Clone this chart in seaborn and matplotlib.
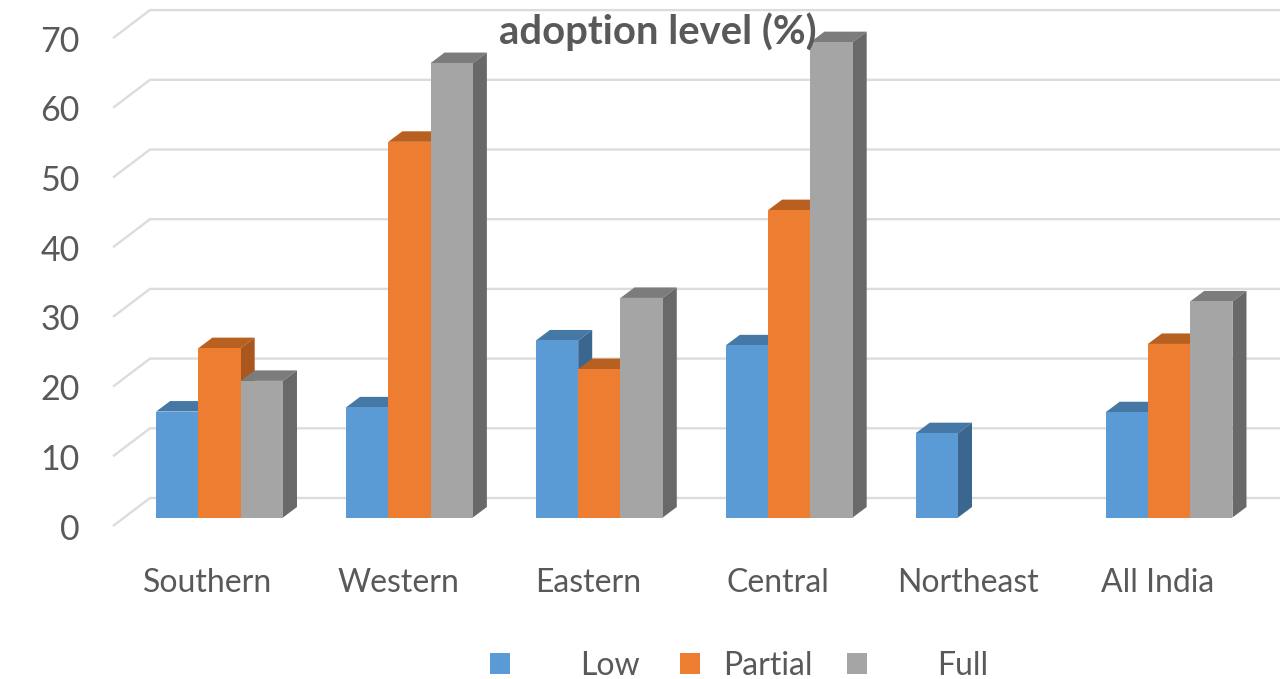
import matplotlib
matplotlib.use("Agg")
import matplotlib.pyplot as plt
from matplotlib.patches import Polygon, Patch
import numpy as np
import pandas as pd
import seaborn as sns

regions = ["Southern", "Western", "Eastern", "Central", "Northeast", "All India"]
low = [15.2, 15.8, 25.4, 24.7, 12.1, 15.1]
partial = [24.3, 53.9, 21.3, 44.1, np.nan, 24.9]
full = [19.6, 65.2, 31.5, 68.2, np.nan, 31.0]
y_ticks = [0, 10, 20, 30, 40, 50, 60, 70]

series_names = ["Low", "Partial", "Full"]
front_colors = ["#5B9BD5", "#ED7D31", "#A5A5A5"]
top_colors = ["#4678A6", "#B8601F", "#7C7C7C"]
side_colors = ["#3B6690", "#A9561F", "#696969"]
text_color = "#595959"
grid_color = "#DCDCDC"

W, H = 1280, 679
sns.set_theme(style="white")
plt.rcParams["font.family"] = ["Lato", "DejaVu Sans"]

fig = plt.figure(figsize=(W / 100, H / 100), dpi=100)

# Plot plane of the bar fronts, in pixel geometry of the canvas
left, right, base, top = 124.6, 1264.0, 517.5, 29.6
ax = fig.add_axes([left / W, (H - base) / H, (right - left) / W, (base - top) / H])

table = pd.DataFrame({"region": regions, "Low": low, "Partial": partial, "Full": full})
long_table = table.melt(id_vars="region", var_name="level", value_name="share")
sns.barplot(
    data=long_table, x="region", y="share", hue="level",
    order=regions, hue_order=series_names, palette=front_colors,
    width=0.668, gap=0, saturation=1, legend=False, ax=ax,
)
ax.set_xlim(-0.5, 5.5)
ax.set_ylim(0, 70)
ax.set_xlabel("")
ax.set_ylabel("")
ax.set_xticks([])
ax.set_yticks([])
sns.despine(ax=ax, left=True, bottom=True)
ax.patch.set_alpha(0)

# Pixel-to-data scales for the oblique depth
px_x = 1 / ((right - left) / 6)
px_y = 70 / (base - top)

# Receding faces of each bar, drawn series by series so later fronts overlap them
bar_dx, bar_dy = 14 * px_x, 10.5 * px_y
for i, container in enumerate(ax.containers):
    for bar in container:
        h = bar.get_height()
        if not np.isfinite(h) or h <= 0:
            continue
        x0, x1 = bar.get_x(), bar.get_x() + bar.get_width()
        bar.set_zorder(3 + i + 0.5)
        bar.set_linewidth(0)
        ax.add_patch(Polygon(
            [(x0, h), (x1, h), (x1 + bar_dx, h + bar_dy), (x0 + bar_dx, h + bar_dy)],
            closed=True, fc=top_colors[i], ec="none", zorder=3 + i, clip_on=False))
        ax.add_patch(Polygon(
            [(x1, 0), (x1 + bar_dx, bar_dy), (x1 + bar_dx, h + bar_dy), (x1, h)],
            closed=True, fc=side_colors[i], ec="none", zorder=3 + i, clip_on=False))

# Wall gridlines with their diagonal run across the floor plane
x_front = -0.5 + (113 - left) * px_x
x_back = -0.5 + (150 - left) * px_x
x_end = -0.5 + (1285 - left) * px_x
y_front = -(526 - base) * px_y
y_back = (base - 498) * px_y
for t in y_ticks:
    ax.plot([x_front, x_back, x_end], [t + y_front, t + y_back, t + y_back],
            color=grid_color, lw=1.7, zorder=1, clip_on=False,
            solid_joinstyle="miter", solid_capstyle="butt")

# Transparent axes on the front edge of the floor carries the tick labels
shift_x, shift_y = 11.5, 9.0
axis_ax = fig.add_axes([(left - shift_x) / W, (H - base - shift_y) / H,
                        (right - left) / W, (base - top) / H], sharey=None)
axis_ax.patch.set_alpha(0)
axis_ax.set_xlim(-0.5, 5.5)
axis_ax.set_ylim(0, 70)
axis_ax.set_xticks(range(len(regions)), regions)
axis_ax.set_yticks(y_ticks, [str(t) for t in y_ticks])
axis_ax.tick_params(axis="x", length=0, pad=30, labelsize=23, labelcolor=text_color)
axis_ax.tick_params(axis="y", length=0, pad=24, labelsize=24.5, labelcolor=text_color)
axis_ax.grid(False)
sns.despine(ax=axis_ax, left=True, bottom=True)

fig.text(657.5 / W, 1 - 32 / H, "adoption level (%)", ha="center", va="center",
         fontsize=28.8, fontweight="bold", color=text_color, zorder=20)

# One legend per series, since the key-to-label gaps differ
key_x = [490, 680, 847]
label_gaps = [70, 23, 70]
legend_size = 23
for name, color, x_px, gap in zip(series_names, front_colors, key_x, label_gaps):
    leg = fig.legend(
        handles=[Patch(facecolor=color, edgecolor="none", label=name)],
        loc="center left", bbox_to_anchor=(x_px / W, 1 - 666 / H),
        bbox_transform=fig.transFigure, frameon=False, fontsize=legend_size,
        labelcolor=text_color, borderpad=0, borderaxespad=0,
        handlelength=20 / (legend_size * 100 / 72),
        handleheight=20 / (legend_size * 100 / 72),
        handletextpad=gap / (legend_size * 100 / 72),
    )

fig.savefig("out.png", dpi=100)
